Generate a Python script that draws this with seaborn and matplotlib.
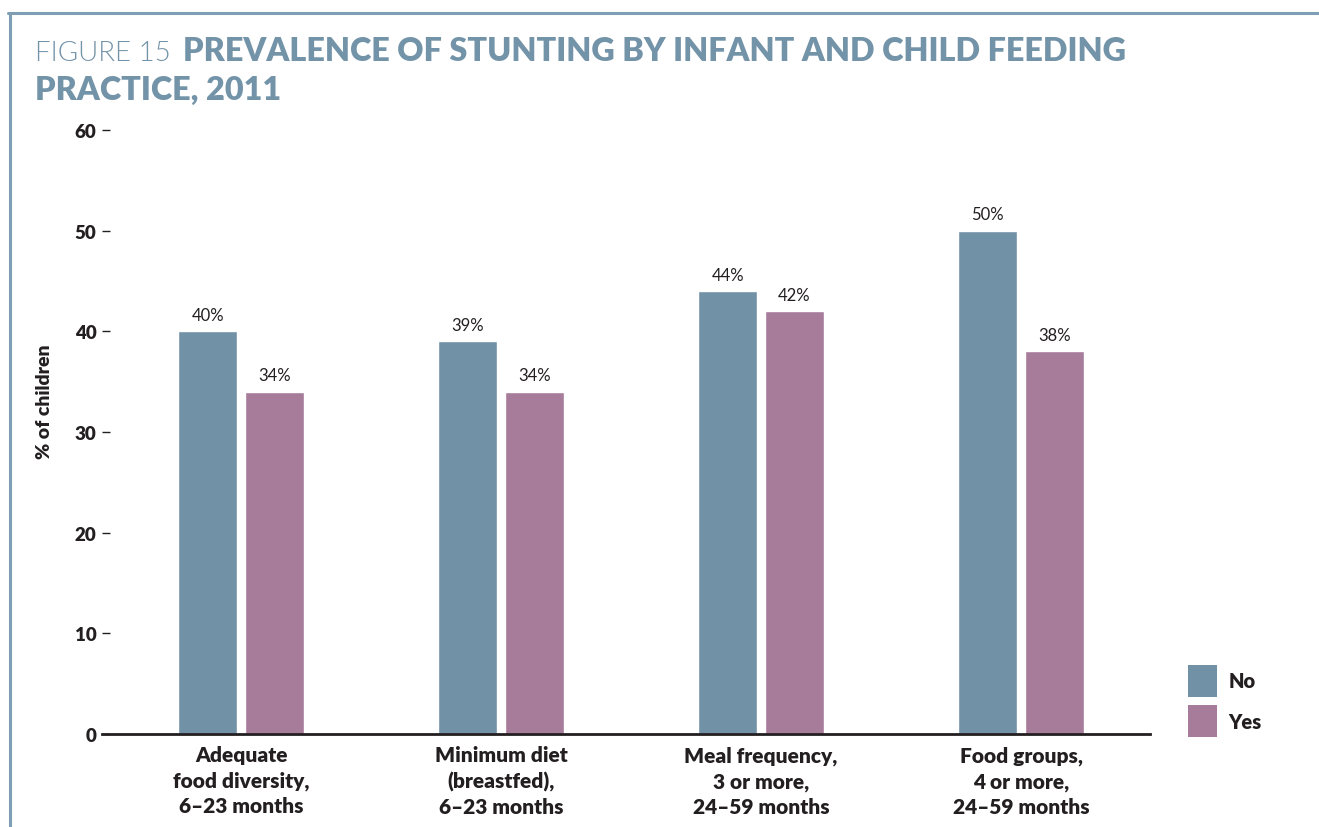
import matplotlib
matplotlib.use("Agg")
import matplotlib.pyplot as plt
import seaborn as sns
import pandas as pd
from matplotlib.patches import Patch
from matplotlib.lines import Line2D

categories = ["Adequate\nfood diversity,\n6–23 months",
              "Minimum diet\n(breastfed),\n6–23 months",
              "Meal frequency,\n3 or more,\n24–59 months",
              "Food groups,\n4 or more,\n24–59 months"]
no_values = [40, 39, 44, 50]
yes_values = [34, 34, 42, 38]
series = ["No", "Yes"]
y_ticks = [0, 10, 20, 30, 40, 50, 60]

title_light = "FIGURE 15"
title_bold_1 = "PREVALENCE OF STUNTING BY INFANT AND CHILD FEEDING"
title_bold_2 = "PRACTICE, 2011"

col_no = "#7191a6"
col_yes = "#a77b9a"
title_col = "#7393a8"
border_col = "#7f9db3"
dark = "#231f20"

df = pd.DataFrame({
    "category": categories * 2,
    "value": no_values + yes_values,
    "series": ["No"] * len(categories) + ["Yes"] * len(categories),
})

sns.set_theme(style="white")
FAM = ["Lato", "DejaVu Sans"]
plt.rcParams["font.family"] = FAM

W, H = 1319, 828
fig = plt.figure(figsize=(W / 100, H / 100), dpi=100)
ax = fig.add_axes([102 / W, (H - 735) / H, (1150 - 102) / W, (735 - 131) / H])

sns.barplot(data=df, x="category", y="value", hue="series", order=categories,
            hue_order=series, palette=[col_no, col_yes], width=0.515, gap=0.12,
            ax=ax, legend=False, saturation=1)

for cont in ax.containers:
    ax.bar_label(cont, fmt="%d%%", padding=6, fontsize=12, color=dark)

ax.set_xlim(-0.535, 3.496)
ax.set_ylim(0, 60)
ax.set_yticks(y_ticks)
ax.set_yticklabels([str(t) for t in y_ticks], fontsize=13.5, fontweight="heavy", color=dark)
ax.tick_params(axis="y", direction="in", length=6, width=1, color=dark, left=True, pad=4)
ax.tick_params(axis="x", length=0, pad=8)
ax.set_xticks(range(len(categories)))
ax.set_xticklabels(categories, fontsize=15, fontweight="heavy", color=dark,
                   linespacing=1.4)
ax.set_xlabel("")
ax.set_ylabel("% of children", fontsize=14, fontweight="heavy", color=dark)
ax.yaxis.set_label_coords(-0.047, 0.551)

for s in ["top", "right", "left"]:
    ax.spines[s].set_visible(False)
ax.spines["bottom"].set_color(dark)
ax.spines["bottom"].set_linewidth(2)

handles = [Patch(facecolor=col_no, edgecolor="none"), Patch(facecolor=col_yes, edgecolor="none")]
fig.legend(handles, series, loc="upper left", bbox_to_anchor=(1180 / W, 1 - 658 / H),
           frameon=False, prop={"family": FAM, "weight": "heavy", "size": 14.5},
           handlelength=1.45, handleheight=2.05, handletextpad=0.55, labelspacing=0.42,
           labelcolor=dark, borderaxespad=0.0)

# border
fig.add_artist(Line2D([8 / W, 1], [1 - 14 / H, 1 - 14 / H], color=border_col, lw=2.2))
fig.add_artist(Line2D([10 / W, 10 / W], [0, 1 - 14 / H], color=border_col, lw=2.2))

# title
t1 = fig.text(35 / W, 1 - 61 / H, title_light, fontsize=20, fontweight=300,
              color=title_col, va="baseline")
fig.canvas.draw()
bb = t1.get_window_extent()
fig.text(bb.x1 / W + 12 / W, 1 - 61 / H, title_bold_1, fontsize=23.3, fontweight="heavy",
         color=title_col, va="baseline")
fig.text(35 / W, 1 - 100 / H, title_bold_2, fontsize=23.3, fontweight="heavy",
         color=title_col, va="baseline")

fig.savefig("out.png", dpi=100)
